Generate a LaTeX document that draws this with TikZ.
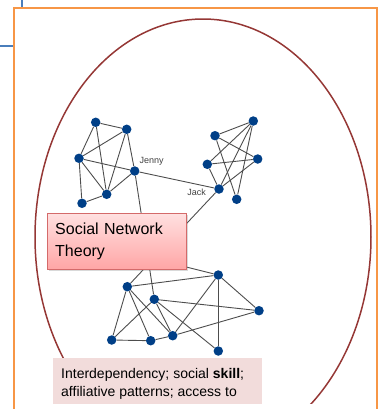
\documentclass[tikz,border=0pt]{standalone}
\usepackage{fontspec}
\setmainfont{Liberation Sans}
\usetikzlibrary{shadows}

\definecolor{nodeblue}{HTML}{003F87}
\definecolor{edgegray}{HTML}{4D4D4D}
\definecolor{ringred}{HTML}{953735}
\definecolor{frameorange}{HTML}{F79646}
\definecolor{guideblue}{HTML}{4A7EBB}
\definecolor{boxpink}{HTML}{F2DCDB}
\definecolor{boxedge}{HTML}{D46A6A}

\begin{document}
\begin{tikzpicture}[
            x=1bp, y=-1bp,
            person/.style={circle, fill=nodeblue, minimum size=9.5bp, inner sep=0pt},
            tie/.style={draw=edgegray, line width=0.9bp},
            who/.style={font=\fontsize{9bp}{10bp}\selectfont, text=black!75, inner sep=0pt},
            theory/.style={draw=boxedge, top color=red!12, bottom color=red!35, drop shadow={shadow xshift=1.5bp, shadow yshift=-1.5bp, opacity=0.3},
                align=left, text width=123bp, inner xsep=8bp, inner ysep=9.5bp, minimum height=56bp,
                font=\fontsize{16bp}{22bp}\selectfont}
        ]
        \useasboundingbox (0,0) rectangle (382,409);

        % frame and guides
        \draw[guideblue, line width=1.2bp] (22,0) -- (22,8);
        \draw[guideblue, line width=1.2bp] (0,46) -- (14,46);
        \draw[frameorange, line width=1.5bp] (14,409) -- (14,8) -- (377,8) -- (377,409);

        \begin{scope}
        \clip (0,0) rectangle (382,403);
        \draw[ringred, line width=1.5bp] (203,237) ellipse [x radius=168, y radius=218];

        % first group
        \node[person] (a) at (95.7,122.3) {};
        \node[person] (b) at (126.7,129.3) {};
        \node[person] (c) at (79,158.3) {};
        \node[person] (jenny) at (134.7,171) {};
        \node[person] (d) at (106.7,194.3) {};
        \node[person] (e) at (82,203.3) {};

        % second group
        \node[person] (f) at (253.3,121) {};
        \node[person] (g) at (215,135.7) {};
        \node[person] (h) at (207.3,164.3) {};
        \node[person] (i) at (257.7,159) {};
        \node[person] (jack) at (219,189) {};
        \node[person] (k) at (236.7,199.3) {};

        % third group
        \node[person] (l) at (218.3,275) {};
        \node[person] (m) at (127.3,286.7) {};
        \node[person] (n) at (154.3,299.3) {};
        \node[person] (o) at (259,310.7) {};
        \node[person] (p) at (111.7,340) {};
        \node[person] (q) at (150.7,340.7) {};
        \node[person] (r) at (172.7,335.7) {};
        \node[person] (s) at (218.3,351) {};
        \coordinate (hidden) at (120,250.5);

        \node[who] (jennylbl) at (151.7,161.7) {Jenny};
        \node[who] (jacklbl) at (196.7,192.7) {Jack};

        \draw[tie] (a) -- (b);
        \draw[tie] (a) -- (c);
        \draw[tie] (a) -- (d);
        \draw[tie] (b) -- (c);
        \draw[tie] (b) -- (d);
        \draw[tie] (b) -- (jenny);
        \draw[tie] (c) -- (jenny);
        \draw[tie] (c) -- (d);
        \draw[tie] (c) -- (e);
        \draw[tie] (e) -- (d);
        \draw[tie] (d) -- (jenny);
        \draw[tie] (jenny) -- (jack);
        \draw[tie] (jenny) -- (n);

        \draw[tie] (g) -- (f);
        \draw[tie] (f) -- (h);
        \draw[tie] (f) -- (jack);
        \draw[tie] (f) -- (k);
        \draw[tie] (g) -- (i);
        \draw[tie] (g) -- (k);
        \draw[tie] (h) -- (i);
        \draw[tie] (h) -- (jack);
        \draw[tie] (i) -- (jack);
        \draw[tie] (jack) -- (m);

        \draw[tie] (m) -- (l);
        \draw[tie] (n) -- (o);
        \draw[tie] (l) -- (o);
        \draw[tie] (l) -- (s);
        \draw[tie] (l) -- (r);
        \draw[tie] (l) -- (hidden);
        \draw[tie] (m) -- (p);
        \draw[tie] (m) -- (q);
        \draw[tie] (m) -- (r);
        \draw[tie] (n) -- (p);
        \draw[tie] (n) -- (r);
        \draw[tie] (n) -- (s);
        \draw[tie] (p) -- (q);
        \draw[tie] (q) -- (r);
        \draw[tie] (r) -- (o);

        \node[theory, anchor=north west] (snt) at (47,213) {Social Network\\Theory};

        \fill[boxpink] (53,358) rectangle (262,409);
        \node[anchor=north west, inner sep=0pt, align=left, font=\fontsize{14bp}{18bp}\selectfont] (traits) at (61,368.6)
            {Interdependency; social \textbf{skill};\\affiliative patterns; access to};
        \end{scope}
    \end{tikzpicture}
\end{document}
